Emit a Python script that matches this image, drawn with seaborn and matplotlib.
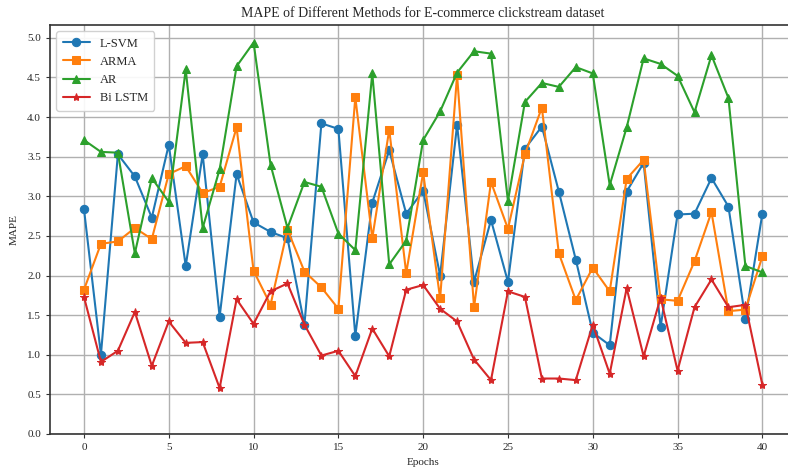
import matplotlib
matplotlib.use("Agg")
import matplotlib.pyplot as plt
import seaborn as sns
import pandas as pd
import numpy as np

epochs = list(range(41))

lsvm = [2.84, 1.00, 3.53, 3.25, 2.73, 3.65, 2.12, 3.53, 1.48, 3.28,
        2.67, 2.55, 2.47, 1.38, 3.92, 3.85, 1.24, 2.92, 3.58, 2.78,
        3.07, 2.00, 3.90, 1.92, 2.70, 1.92, 3.60, 3.88, 3.06, 2.20,
        1.28, 1.12, 3.06, 3.42, 1.35, 2.77, 2.78, 3.23, 2.87, 1.45,
        2.78]

arma = [1.82, 2.40, 2.43, 2.60, 2.46, 3.28, 3.38, 3.04, 3.12, 3.87,
        2.06, 1.63, 2.58, 2.05, 1.85, 1.58, 4.25, 2.47, 3.84, 2.03,
        3.30, 1.71, 4.53, 1.60, 3.18, 2.59, 3.53, 4.12, 2.28, 1.69,
        2.10, 1.80, 3.22, 3.46, 1.70, 1.68, 2.18, 2.80, 1.55, 1.57,
        2.24]

ar = [3.71, 3.56, 3.55, 2.28, 3.23, 2.93, 4.60, 2.60, 3.34, 4.64,
      4.94, 3.40, 2.60, 3.18, 3.12, 2.53, 2.32, 4.55, 2.14, 2.44,
      3.71, 4.07, 4.56, 4.83, 4.80, 2.94, 4.19, 4.43, 4.38, 4.63,
      4.55, 3.14, 3.87, 4.74, 4.67, 4.52, 4.06, 4.78, 4.24, 2.12,
      2.04]

bilstm = [1.73, 0.91, 1.05, 1.54, 0.86, 1.42, 1.15, 1.16, 0.58, 1.70,
          1.39, 1.80, 1.90, 1.38, 0.99, 1.05, 0.73, 1.33, 0.98, 1.82,
          1.88, 1.58, 1.42, 0.94, 0.68, 1.80, 1.73, 0.70, 0.70, 0.68,
          1.38, 0.76, 1.84, 0.98, 1.72, 0.80, 1.60, 1.95, 1.60, 1.63,
          0.62]

methods = ["L-SVM", "ARMA", "AR", "Bi LSTM"]
series = [lsvm, arma, ar, bilstm]

df = pd.DataFrame({
    "Epochs": np.tile(epochs, len(methods)),
    "MAPE": np.concatenate(series),
    "Method": np.repeat(methods, len(epochs)),
})

sns.set_style("whitegrid")
plt.rcParams["font.family"] = ["Liberation Serif", "DejaVu Serif"]

fig = plt.figure(figsize=(7.88, 4.70), dpi=100)
ax = fig.add_axes([0.0635, 0.0766, 0.947, 0.870])

palette = {"L-SVM": "#1f77b4", "ARMA": "#ff7f0e", "AR": "#2ca02c", "Bi LSTM": "#d62728"}
markers = {"L-SVM": "o", "ARMA": "s", "AR": "^", "Bi LSTM": "*"}
sizes_ms = {"L-SVM": 6, "ARMA": 6, "AR": 6, "Bi LSTM": 6}

for m in methods:
    sub = df[df["Method"] == m]
    sns.lineplot(data=sub, x="Epochs", y="MAPE", ax=ax, color=palette[m],
                 marker=markers[m], markersize=sizes_ms[m], markeredgecolor=palette[m],
                 linewidth=1.5, label=m)

ax.set_xlim(-2, 42)
ax.set_ylim(0, 5.16)
ax.set_xticks(range(0, 41, 5))
ax.set_yticks(np.arange(0, 5.01, 0.5))
ax.yaxis.set_major_formatter(matplotlib.ticker.FormatStrFormatter("%.1f"))
ax.tick_params(labelsize=8, length=3, left=True, bottom=True, color="#333333")
ax.grid(True, color="#b0b0b0", linewidth=1.0)
for side in ["left", "bottom", "top", "right"]:
    ax.spines[side].set_color("#333333")
    ax.spines[side].set_linewidth(1.2)

ax.set_title("MAPE of Different Methods for E-commerce clickstream dataset", fontsize=10, pad=6)
ax.set_xlabel("Epochs", fontsize=8, labelpad=4)
ax.set_ylabel("MAPE", fontsize=8, labelpad=6)

leg = ax.legend(loc="upper left", fontsize=9, frameon=True, framealpha=0.9,
                edgecolor="#cccccc", borderpad=0.5, handlelength=2.2)

fig.savefig("out.png", dpi=100)
